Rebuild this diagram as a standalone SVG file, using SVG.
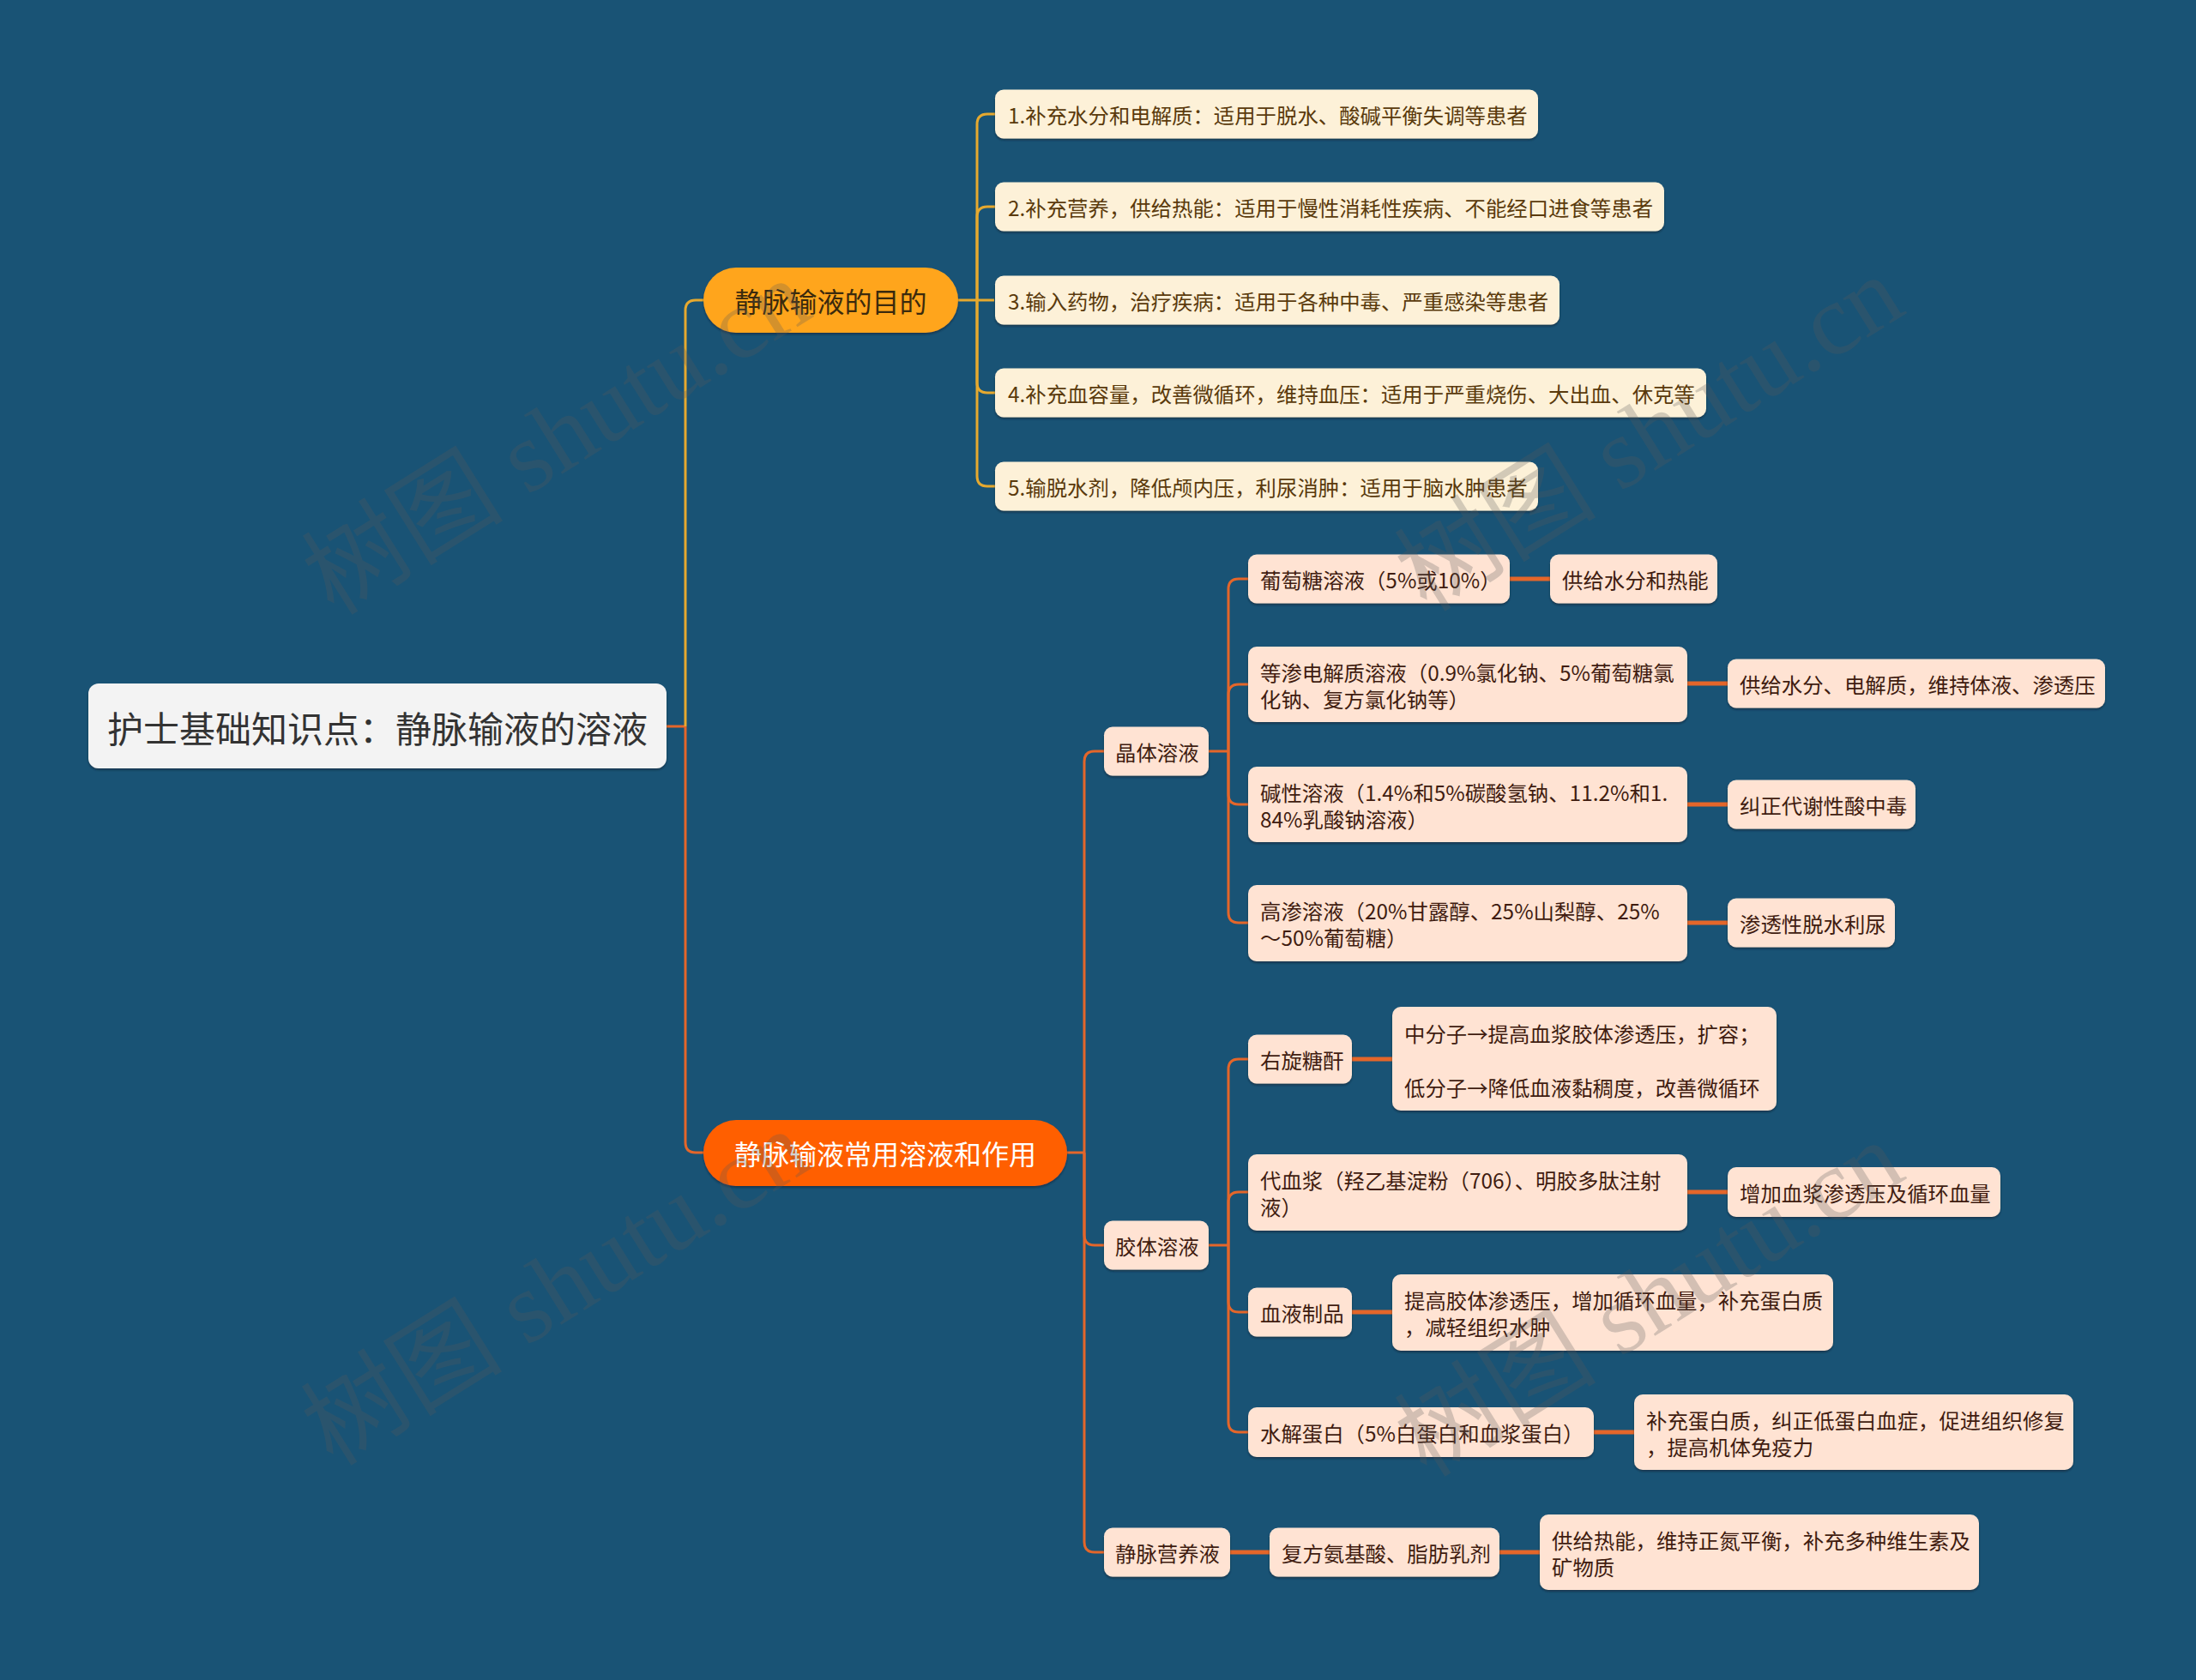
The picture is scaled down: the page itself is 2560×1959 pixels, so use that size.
<svg xmlns="http://www.w3.org/2000/svg" width="2560" height="1959" viewBox="0 0 2560 1959">
<defs>
<style>
.t{font-family:"Noto Sans CJK SC","Noto Sans",sans-serif;dominant-baseline:central;}
.s24{font-size:24.4px;}
.cream{fill:#fdf1d8;}
.peach{fill:#ffe3d3;}
.tc{fill:#5a3a0c;}
.tp{fill:#3f1c10;}
.c1{fill:none;stroke:#e6a92f;stroke-width:3;}
.c2{fill:none;stroke:#e4662a;stroke-width:3;}
.c3{fill:none;stroke:#e4662a;stroke-width:5;}
.wm{font-family:"Liberation Serif","Noto Sans CJK SC",serif;font-size:118px;fill:#5a5a5a;opacity:0.26;text-anchor:middle;dominant-baseline:central;}
</style>
<filter id="sh" x="-5%" y="-10%" width="110%" height="130%">
<feDropShadow dx="0" dy="2" stdDeviation="1.2" flood-color="#0a2233" flood-opacity="0.55"/>
</filter>
</defs>
<rect x="0" y="0" width="2560" height="1959" fill="#195375"/>

<g id="connectors">
<path class="c2" d="M777,847 H799"/>
<path class="c1" d="M799,847 V362 Q799,350 811,350 H820"/>
<path class="c2" d="M799,847 V1332 Q799,1344 811,1344 H820"/>
<path class="c1" d="M1117,350 H1159"/>
<path class="c1" d="M1139,350 V145 Q1139,133 1151,133 H1160"/>
<path class="c1" d="M1139,350 V253 Q1139,241 1151,241 H1160"/>
<path class="c1" d="M1139,350 V446 Q1139,458 1151,458 H1160"/>
<path class="c1" d="M1139,350 V555 Q1139,567 1151,567 H1160"/>
<path class="c2" d="M1244,1344 H1264"/>
<path class="c2" d="M1264,1344 V888 Q1264,876 1276,876 H1287"/>
<path class="c2" d="M1264,1344 V1440 Q1264,1452 1276,1452 H1287"/>
<path class="c2" d="M1264,1344 V1798 Q1264,1810 1276,1810 H1287"/>
<path class="c2" d="M1409,876 H1432"/>
<path class="c2" d="M1432,876 V687 Q1432,675 1444,675 H1455"/>
<path class="c2" d="M1432,876 V810 Q1432,798 1444,798 H1455"/>
<path class="c2" d="M1432,876 V926 Q1432,938 1444,938 H1455"/>
<path class="c2" d="M1432,876 V1064 Q1432,1076 1444,1076 H1455"/>
<path class="c2" d="M1409,1452 H1432"/>
<path class="c2" d="M1432,1452 V1247 Q1432,1235 1444,1235 H1455"/>
<path class="c2" d="M1432,1452 V1402 Q1432,1390 1444,1390 H1455"/>
<path class="c2" d="M1432,1452 V1518 Q1432,1530 1444,1530 H1455"/>
<path class="c2" d="M1432,1452 V1658 Q1432,1670 1444,1670 H1455"/>
<path class="c3" d="M1760,675 H1807"/>
<path class="c3" d="M1967,797 H2014"/>
<path class="c3" d="M1967,938 H2014"/>
<path class="c3" d="M1967,1076 H2014"/>
<path class="c3" d="M1576,1235 H1623"/>
<path class="c3" d="M1967,1390 H2014"/>
<path class="c3" d="M1576,1530 H1623"/>
<path class="c3" d="M1858,1670 H1905"/>
<path class="c3" d="M1434,1810 H1480"/>
<path class="c3" d="M1748,1810 H1795"/>
</g>

<g id="root">
<rect x="103" y="797" width="674" height="99" rx="12" fill="#f3f3f3" filter="url(#sh)"/>
<text class="t" x="440" y="847" font-size="42" fill="#333333" text-anchor="middle">护士基础知识点：静脉输液的溶液</text>
</g>

<g id="branch1">
<rect x="820" y="312" width="297" height="76" rx="38" fill="#ffa51f" filter="url(#sh)"/>
<text class="t" x="968.5" y="350" font-size="32" fill="#3b2a0d" text-anchor="middle">静脉输液的目的</text>
</g>
<g id="branch2">
<rect x="820" y="1306" width="424" height="77" rx="38" fill="#ff5f05" filter="url(#sh)"/>
<text class="t" x="1032" y="1344" font-size="32" fill="#ffffff" text-anchor="middle">静脉输液常用溶液和作用</text>
</g>

<g id="p1"><rect class="cream" x="1160" y="104.5" width="633" height="57" rx="10" filter="url(#sh)"/><text class="t s24 tc" x="1175" y="133">1.补充水分和电解质：适用于脱水、酸碱平衡失调等患者</text></g>
<g id="p2"><rect class="cream" x="1160" y="212.5" width="780" height="57" rx="10" filter="url(#sh)"/><text class="t s24 tc" x="1175" y="241">2.补充营养，供给热能：适用于慢性消耗性疾病、不能经口进食等患者</text></g>
<g id="p3"><rect class="cream" x="1160" y="321.5" width="658" height="57" rx="10" filter="url(#sh)"/><text class="t s24 tc" x="1175" y="350">3.输入药物，治疗疾病：适用于各种中毒、严重感染等患者</text></g>
<g id="p4"><rect class="cream" x="1160" y="429.5" width="829" height="57" rx="10" filter="url(#sh)"/><text class="t s24 tc" x="1175" y="458">4.补充血容量，改善微循环，维持血压：适用于严重烧伤、大出血、休克等</text></g>
<g id="p5"><rect class="cream" x="1160" y="538.5" width="633" height="57" rx="10" filter="url(#sh)"/><text class="t s24 tc" x="1175" y="567">5.输脱水剂，降低颅内压，利尿消肿：适用于脑水肿患者</text></g>

<g id="jingti"><rect class="peach" x="1287" y="847.5" width="122" height="57" rx="10" filter="url(#sh)"/><text class="t s24 tp" x="1300" y="876">晶体溶液</text></g>
<g id="jiaoti"><rect class="peach" x="1287" y="1423.5" width="122" height="57" rx="10" filter="url(#sh)"/><text class="t s24 tp" x="1300" y="1452">胶体溶液</text></g>
<g id="yingyang"><rect class="peach" x="1287" y="1781.5" width="147" height="57" rx="10" filter="url(#sh)"/><text class="t s24 tp" x="1300" y="1810">静脉营养液</text></g>

<g id="c1"><rect class="peach" x="1455" y="646.5" width="305" height="57" rx="10" filter="url(#sh)"/><text class="t s24 tp" x="1469" y="675">葡萄糖溶液（5%或10%）</text></g>
<g id="c1r"><rect class="peach" x="1807" y="646.5" width="195" height="57" rx="10" filter="url(#sh)"/><text class="t s24 tp" x="1821" y="675">供给水分和热能</text></g>
<g id="c2"><rect class="peach" x="1455" y="754" width="512" height="88" rx="10" filter="url(#sh)"/><text class="t s24 tp" x="1469" y="783">等渗电解质溶液（0.9%氯化钠、5%葡萄糖氯</text><text class="t s24 tp" x="1469" y="814">化钠、复方氯化钠等）</text></g>
<g id="c2r"><rect class="peach" x="2014" y="768.5" width="440" height="57" rx="10" filter="url(#sh)"/><text class="t s24 tp" x="2028" y="797">供给水分、电解质，维持体液、渗透压</text></g>
<g id="c3"><rect class="peach" x="1455" y="894" width="512" height="88" rx="10" filter="url(#sh)"/><text class="t s24 tp" x="1469" y="923">碱性溶液（1.4%和5%碳酸氢钠、11.2%和1.</text><text class="t s24 tp" x="1469" y="954">84%乳酸钠溶液）</text></g>
<g id="c3r"><rect class="peach" x="2014" y="909.5" width="219" height="57" rx="10" filter="url(#sh)"/><text class="t s24 tp" x="2028" y="938">纠正代谢性酸中毒</text></g>
<g id="c4"><rect class="peach" x="1455" y="1032" width="512" height="89" rx="10" filter="url(#sh)"/><text class="t s24 tp" x="1469" y="1061">高渗溶液（20%甘露醇、25%山梨醇、25%</text><text class="t s24 tp" x="1469" y="1092">～50%葡萄糖）</text></g>
<g id="c4r"><rect class="peach" x="2014" y="1047.5" width="195" height="57" rx="10" filter="url(#sh)"/><text class="t s24 tp" x="2028" y="1076">渗透性脱水利尿</text></g>

<g id="d1"><rect class="peach" x="1455" y="1206.5" width="121" height="57" rx="10" filter="url(#sh)"/><text class="t s24 tp" x="1469" y="1235">右旋糖酐</text></g>
<g id="d1r"><rect class="peach" x="1623" y="1174" width="448" height="121" rx="10" filter="url(#sh)"/><text class="t s24 tp" x="1637" y="1204">中分子→提高血浆胶体渗透压，扩容；</text><text class="t s24 tp" x="1637" y="1267">低分子→降低血液黏稠度，改善微循环</text></g>
<g id="d2"><rect class="peach" x="1455" y="1346" width="512" height="89" rx="10" filter="url(#sh)"/><text class="t s24 tp" x="1469" y="1375">代血浆（羟乙基淀粉（706）、明胶多肽注射</text><text class="t s24 tp" x="1469" y="1406">液）</text></g>
<g id="d2r"><rect class="peach" x="2014" y="1361" width="318" height="58" rx="10" filter="url(#sh)"/><text class="t s24 tp" x="2028" y="1390">增加血浆渗透压及循环血量</text></g>
<g id="d3"><rect class="peach" x="1455" y="1501.5" width="121" height="57" rx="10" filter="url(#sh)"/><text class="t s24 tp" x="1469" y="1530">血液制品</text></g>
<g id="d3r"><rect class="peach" x="1623" y="1486" width="514" height="89" rx="10" filter="url(#sh)"/><text class="t s24 tp" x="1637" y="1515">提高胶体渗透压，增加循环血量，补充蛋白质</text><text class="t s24 tp" x="1637" y="1546">，减轻组织水肿</text></g>
<g id="d4"><rect class="peach" x="1455" y="1641" width="403" height="58" rx="10" filter="url(#sh)"/><text class="t s24 tp" x="1469" y="1670">水解蛋白（5%白蛋白和血浆蛋白）</text></g>
<g id="d4r"><rect class="peach" x="1905" y="1626" width="512" height="88" rx="10" filter="url(#sh)"/><text class="t s24 tp" x="1919" y="1655">补充蛋白质，纠正低蛋白血症，促进组织修复</text><text class="t s24 tp" x="1919" y="1686">，提高机体免疫力</text></g>

<g id="e1"><rect class="peach" x="1480" y="1781.5" width="268" height="57" rx="10" filter="url(#sh)"/><text class="t s24 tp" x="1494" y="1810">复方氨基酸、脂肪乳剂</text></g>
<g id="e2"><rect class="peach" x="1795" y="1766" width="512" height="88" rx="10" filter="url(#sh)"/><text class="t s24 tp" x="1809" y="1795">供给热能，维持正氮平衡，补充多种维生素及</text><text class="t s24 tp" x="1809" y="1826">矿物质</text></g>

<g id="watermarks">
<text class="wm" transform="translate(649,510) rotate(-32)">树图 shutu.cn</text>
<text class="wm" transform="translate(1923,506) rotate(-32)">树图 shutu.cn</text>
<text class="wm" transform="translate(648,1502) rotate(-32)">树图 shutu.cn</text>
<text class="wm" transform="translate(1923,1515) rotate(-32)">树图 shutu.cn</text>
</g>
</svg>
